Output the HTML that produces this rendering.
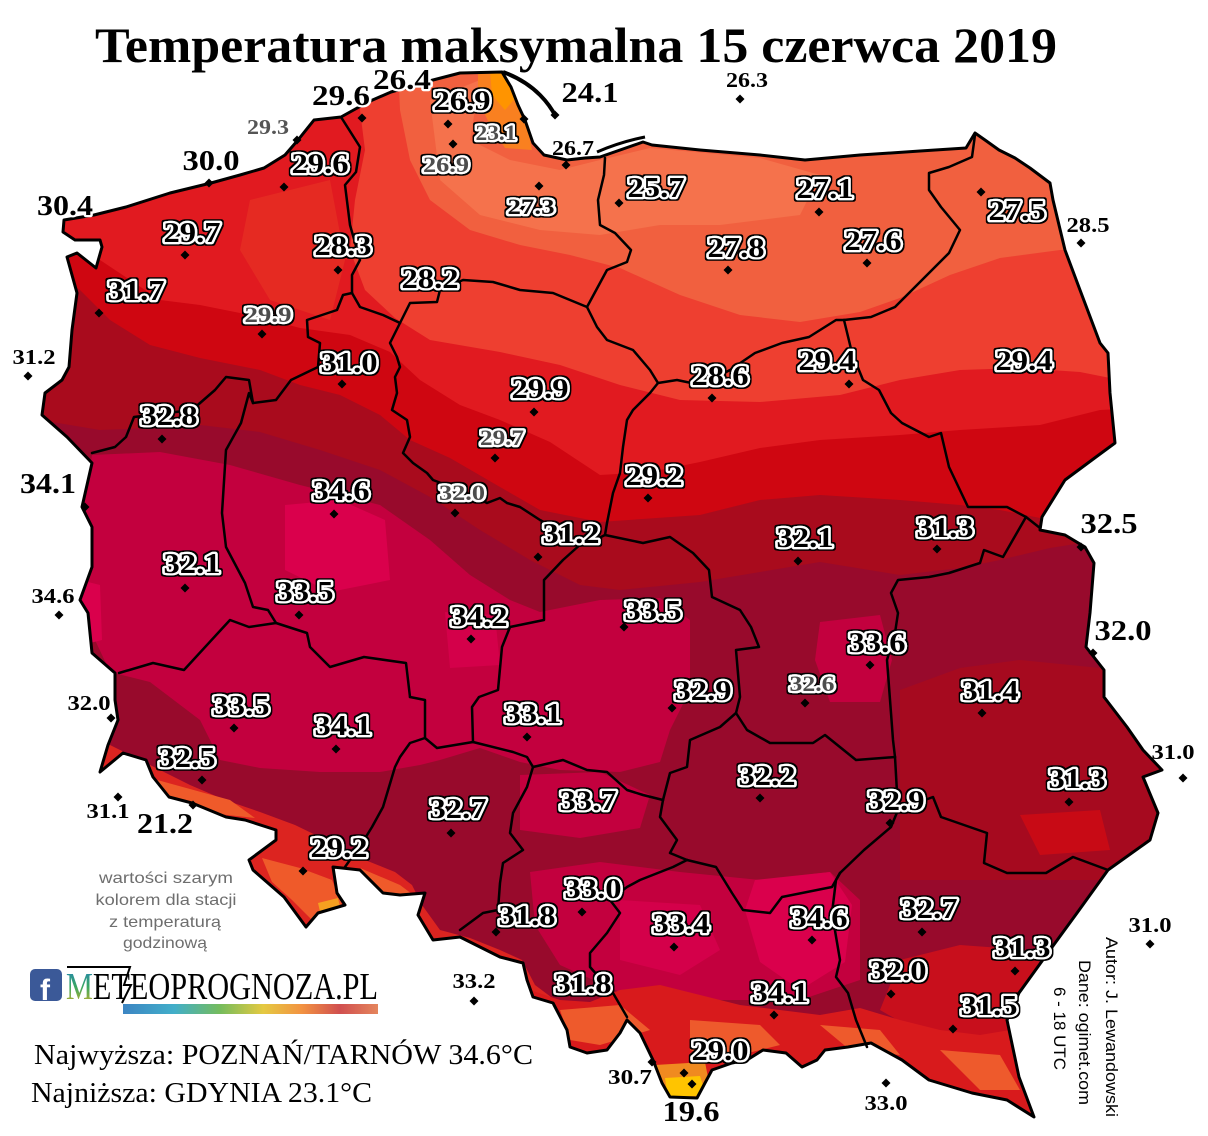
<!DOCTYPE html>
<html><head><meta charset="utf-8">
<style>
html,body{margin:0;padding:0;background:#fff;}
svg{display:block;}
.t{font-family:"Liberation Serif",serif;font-weight:bold;}
.big{font-size:29px;}
.sm{font-size:21px;}
.halo{stroke:#fff;stroke-width:4.5;stroke-linejoin:round;paint-order:stroke;}
.bd{fill:none;stroke:#000;stroke-width:2.5;stroke-linejoin:round;stroke-linecap:round;}
</style></head><body>
<svg width="1208" height="1136" viewBox="0 0 1208 1136" xmlns="http://www.w3.org/2000/svg">
<defs>
<clipPath id="pl"><path id="plp" d="M94,215 L126,207 L170,193 L211,183 L240,175 L264,168 L285,155 L298,140 L314,120 L341,117 L368,102 L391,92 L433,80 L460,73 L502,72 L511,87 L518,105 L525,120 L533,143 L544,155 L567,160 L585,158 L600,157 L643,142 L652,145 L700,150 L760,155 L805,160 L860,155 L920,151 L966,148 L975,133 L985,140 L999,150 L1015,158 L1030,168 L1050,183 L1053,200 L1065,250 L1080,290 L1100,343 L1108,353 L1110,393 L1115,443 L1096,457 L1065,480 L1042,517 L1040,530 L1065,535 L1085,547 L1094,563 L1090,613 L1086,647 L1104,670 L1104,697 L1127,727 L1143,750 L1162,770 L1143,777 L1158,813 L1150,840 L1108,870 L1077,913 L1050,950 L1019,993 L1007,1020 L1019,1077 L1034,1117 L1007,1100 L972,1093 L929,1080 L902,1060 L871,1043 L848,1047 L825,1050 L817,1060 L802,1067 L786,1053 L763,1050 L747,1060 L732,1063 L712,1070 L705,1083 L697,1098 L670,1097 L662,1083 L653,1060 L640,1033 L627,1020 L620,1033 L607,1050 L587,1053 L570,1047 L567,1030 L553,1003 L533,997 L527,980 L523,963 L500,957 L480,947 L460,937 L433,940 L418,915 L425,893 L400,895 L383,893 L360,870 L333,867 L337,893 L345,905 L318,913 L306,927 L284,897 L253,870 L249,860 L276,840 L276,830 L245,820 L226,817 L192,803 L169,797 L153,777 L146,760 L123,753 L100,772 L108,745 L118,720 L115,700 L115,673 L92,653 L88,613 L80,600 L92,567 L92,527 L82,507 L92,463 L67,437 L42,415 L45,393 L62,380 L69,367 L72,330 L77,293 L67,257 L77,253 L96,268 L102,247 L100,240 L75,240 L63,232 L64,220 Z"/></clipPath>
<filter id="rim" x="-20%" y="-30%" width="140%" height="160%">
<feMorphology in="SourceAlpha" operator="dilate" radius="1.3" result="d"/>
<feFlood flood-color="#000"/>
<feComposite in2="d" operator="in" result="b"/>
<feMerge><feMergeNode in="b"/><feMergeNode in="SourceGraphic"/></feMerge>
</filter>
<linearGradient id="mg" x1="0" y1="0" x2="0" y2="1">
<stop offset="0" stop-color="#1f7fc0"/><stop offset="0.5" stop-color="#3aa860"/><stop offset="1" stop-color="#e0b020"/>
</linearGradient>
<linearGradient id="bar" x1="0" y1="0" x2="1" y2="0">
<stop offset="0" stop-color="#1a6fb8"/><stop offset="0.2" stop-color="#20a0c0"/><stop offset="0.38" stop-color="#5cb040"/><stop offset="0.55" stop-color="#e0c020"/><stop offset="0.7" stop-color="#f08020"/><stop offset="0.85" stop-color="#c83030"/><stop offset="1" stop-color="#e07040"/>
</linearGradient>
</defs>

<!-- colour field -->
<g clip-path="url(#pl)">
<rect x="0" y="0" width="1208" height="1136" fill="#980a2c"/>
<path fill="#c3003e" d="M92,455 L160,452 L230,465 L300,485 L380,505 L430,540 L470,575 L510,600 L540,612 L600,600 L660,598 L690,620 L690,690 L670,730 L660,762 L620,772 L560,770 L520,762 L480,748 L440,760 L420,765 L380,772 L320,772 L260,768 L220,760 L200,720 L150,682 L110,672 L95,640 L80,560 L85,500 Z"/>
<path fill="#c3003e" d="M530,872 L600,862 L680,872 L760,880 L830,872 L860,900 L860,980 L800,1000 L700,1000 L620,992 L560,965 L535,925 Z"/>
<path fill="#c3003e" d="M520,775 L600,772 L650,795 L640,828 L580,838 L520,830 Z"/>
<path fill="#c3003e" d="M820,622 L880,615 L892,660 L880,702 L830,702 L815,660 Z"/>
<path fill="#da004c" d="M285,505 L340,500 L385,520 L390,580 L330,592 L285,570 Z"/>
<path fill="#da004c" d="M80,580 L100,585 L102,640 L82,645 Z"/>
<path fill="#da004c" d="M755,880 L830,872 L852,905 L845,962 L800,990 L760,962 L745,910 Z"/>
<path fill="#d4004a" d="M445,612 L495,615 L500,665 L450,668 Z"/>
<path fill="#d4004a" d="M620,900 L700,905 L720,950 L680,975 L620,960 Z"/>
<path fill="#a60a1f" d="M900,690 L960,668 L1020,660 L1100,668 L1160,700 L1175,880 L900,880 Z"/>
<path fill="#c80a15" d="M1020,815 L1100,810 L1110,850 L1040,855 Z"/>
<path fill="#c80f1c" d="M900,960 L960,945 L1030,950 L1060,990 L1040,1040 L950,1050 L880,1010 Z"/>
<!-- northern bands -->
<path fill="#a90b1d" d="M0,0 L1208,0 L1208,540 L1100,540 L1050,548 L1000,560 L960,568 L900,575 L820,562 L760,572 L700,582 L620,590 L580,585 L530,560 L480,530 L430,497 L380,470 L320,450 L260,432 L200,425 L150,428 L100,430 L40,420 L0,400 Z"/>
<path fill="#cf0611" d="M0,0 L1208,0 L1208,520 L1100,520 L1040,518 L1000,510 L960,505 L900,500 L820,495 L760,500 L700,515 L600,522 L540,510 L500,487 L450,458 L410,440 L380,415 L340,395 L300,385 L260,370 L200,358 L150,345 L110,320 L80,290 L50,270 L0,265 Z"/>
<path fill="#e11a20" d="M0,0 L1208,0 L1208,405 L1100,410 L1040,425 L960,430 L900,435 L820,440 L760,448 L700,462 L650,472 L600,475 L550,442 L500,420 L460,405 L420,380 L390,352 L350,335 L300,328 L250,315 L200,305 L160,300 L130,280 L100,260 L60,245 L0,235 Z"/>
<path fill="#e52a22" d="M250,200 L330,180 L345,260 L330,320 L270,300 L240,250 Z"/>
<path fill="#ee3f30" d="M345,0 L1208,0 L1208,385 L1120,380 L1080,372 L1020,368 L960,370 L900,380 L840,395 L760,402 L680,400 L620,385 L560,365 L500,352 L430,340 L395,318 L365,290 L350,250 L355,200 L365,150 L360,110 L345,60 Z"/>
<path fill="#f1603f" d="M395,0 L1208,0 L1208,250 L1060,250 L1000,258 L950,275 L900,298 L860,312 L800,322 L740,315 L680,295 L620,268 L570,255 L520,245 L470,230 L430,200 L410,160 L400,110 Z"/>
<path fill="#f5724c" d="M430,100 L480,80 L470,140 L510,160 L560,170 L600,160 L650,148 L760,158 L820,175 L800,215 L720,225 L660,225 L600,235 L540,230 L480,215 L440,180 Z"/>
<path fill="#f98020" d="M478,70 L512,70 L520,100 L528,130 L532,150 L505,148 L490,125 L478,100 Z"/>
<path fill="#ff9400" d="M490,70 L512,70 L518,95 L505,110 L492,95 Z"/>
<!-- mountains -->
<path fill="#dc2420" d="M110,745 L150,765 L190,785 L225,800 L260,812 L295,825 L330,842 L360,858 L395,872 L412,885 L422,905 L440,930 L470,938 L500,950 L522,960 L535,985 L555,1000 L570,1040 L570,1136 L0,1136 L0,745 Z"/>
<path fill="#ef5a2a" d="M262,858 L300,868 L332,880 L342,905 L312,920 L292,900 L272,882 Z"/>
<path fill="#ef5a2a" d="M150,778 L230,800 L255,818 L200,812 L150,792 Z"/>
<path fill="#ef5a2a" d="M360,868 L400,885 L420,900 L380,895 Z"/>
<path fill="#f5a020" d="M318,903 L338,898 L342,916 L322,920 Z"/>
<path fill="#d81a1c" d="M530,990 L560,1000 L590,1002 L620,990 L660,985 L700,995 L740,1005 L780,1010 L820,1015 L860,1008 L900,1020 L940,1030 L980,1035 L1010,1030 L1040,1000 L1208,1000 L1208,1136 L530,1136 Z"/>
<path fill="#ee5a2c" d="M560,1010 L620,1005 L650,1030 L600,1045 L570,1040 Z"/>
<path fill="#ee5a2c" d="M690,1020 L760,1025 L780,1045 L720,1060 L690,1050 Z"/>
<path fill="#ee5a2c" d="M820,1025 L880,1030 L900,1055 L850,1050 Z"/>
<path fill="#ee5a2c" d="M940,1050 L1000,1055 L1020,1090 L980,1090 Z"/>
<path fill="#f08a20" d="M655,1065 L705,1062 L712,1098 L660,1100 Z"/>
<path fill="#ffc400" d="M665,1078 L700,1076 L706,1095 L668,1098 Z"/>
</g>

<!-- voivodeship borders -->
<g class="bd">
<polyline points="341,117 360,147 356,172 345,185 350,225 360,260 352,275 352,293"/>
<polyline points="352,293 343,295 337,310 307,320 308,337 320,343 318,367 291,380 276,400 253,403"/>
<polyline points="253,403 249,380 226,377 215,390 192,410 134,417 126,437 115,447 92,453"/>
<polyline points="352,293 360,307 383,315 400,323 410,303 437,302 440,290 463,280 493,282 520,290 553,293 587,307"/>
<polyline points="587,307 607,270 627,262 631,250 615,233 600,225 598,200 604,175 605,158"/>
<polyline points="587,307 597,327 607,340 633,350 650,370 658,383"/>
<polyline points="658,383 650,393 633,410 627,420 623,447 620,473 613,493 607,523 605,535"/>
<polyline points="400,323 390,343 397,357 400,367 395,377 397,393 392,410 407,420 410,437 403,453 413,463 427,473 433,480 467,493 487,503 500,498 507,503 520,507 540,520 553,527 582,543 595,540 605,535"/>
<polyline points="582,543 563,560 544,580 544,620 510,627 502,647 498,690 479,697 472,707 473,742"/>
<polyline points="605,535 643,543 670,537 693,553 709,570 712,597 740,610 751,627 759,647 736,650 740,697 736,713"/>
<polyline points="658,383 677,380 701,385 730,370 755,353 782,343 809,337 836,320 844,320"/>
<polyline points="844,320 871,317 895,307 922,280 949,253 960,230 941,207 929,190 929,173 949,167 972,157 975,135"/>
<polyline points="844,320 852,353 863,380 879,390 891,413 902,423 929,437 941,433 949,467 968,507 1007,507 1026,517 1040,528"/>
<polyline points="1026,517 1003,557 984,550 980,563 949,573 929,577 898,580 891,593 898,613 895,633 887,660 891,713 893,740 895,757"/>
<polyline points="736,713 720,727 690,740 687,767 670,773 663,800"/>
<polyline points="736,713 747,730 770,743 813,743 825,735 856,760 895,757"/>
<polyline points="473,742 513,752 527,757 533,767 563,760 587,770 607,772 627,790 643,795 663,800"/>
<polyline points="473,742 437,748 425,738 425,700 410,697"/>
<polyline points="410,697 406,663 364,657 330,667 310,647 307,633 276,623"/>
<polyline points="253,403 249,393 241,423 226,450 222,513 226,547 245,583 253,607 268,610 276,623"/>
<polyline points="276,623 249,627 230,620 218,633 184,670 153,663 119,673"/>
<polyline points="425,738 410,743 400,757 395,767 383,807 372,827 364,840 345,867"/>
<polyline points="533,767 527,787 513,813 510,833 523,850 503,863 500,883 498,910 483,913 460,930"/>
<polyline points="663,800 660,817 677,840 670,853 687,860"/>
<polyline points="687,860 673,867 640,880 627,887 610,900 620,913 607,933 590,953 590,967 613,993 627,1017"/>
<polyline points="687,860 716,867 732,893 743,910 770,913 782,897 832,887 840,873"/>
<polyline points="840,873 864,850 891,827 898,810 895,757"/>
<polyline points="898,810 933,797 941,817 987,833 984,863 1007,873 1046,873 1073,857 1108,870"/>
<polyline points="840,873 836,880 832,913 840,960 836,977 848,993 856,1020 867,1047"/>
</g>
<use href="#plp" fill="none" stroke="#000" stroke-width="3" stroke-linejoin="round"/>
<path d="M503,72 Q525,80 540,95 Q550,105 556,117" fill="none" stroke="#000" stroke-width="4"/>
<path d="M597,152 Q620,142 645,137" fill="none" stroke="#000" stroke-width="3"/>

<!-- station diamonds -->
<path fill="#000" d="M362,113.5l4.5,4.5-4.5,4.5-4.5-4.5z M448,119.5l4.5,4.5-4.5,4.5-4.5-4.5z M524,114.5l4.5,4.5-4.5,4.5-4.5-4.5z M453,139.5l4.5,4.5-4.5,4.5-4.5-4.5z M555,110.5l4.5,4.5-4.5,4.5-4.5-4.5z M740,94.5l4.5,4.5-4.5,4.5-4.5-4.5z M566,160.5l4.5,4.5-4.5,4.5-4.5-4.5z M539,181.5l4.5,4.5-4.5,4.5-4.5-4.5z M297,135.5l4.5,4.5-4.5,4.5-4.5-4.5z M209,178.5l4.5,4.5-4.5,4.5-4.5-4.5z M284,182.5l4.5,4.5-4.5,4.5-4.5-4.5z M185,250.5l4.5,4.5-4.5,4.5-4.5-4.5z M338,265.5l4.5,4.5-4.5,4.5-4.5-4.5z M99,308.5l4.5,4.5-4.5,4.5-4.5-4.5z M262,329.5l4.5,4.5-4.5,4.5-4.5-4.5z M28,371.5l4.5,4.5-4.5,4.5-4.5-4.5z M342,379.5l4.5,4.5-4.5,4.5-4.5-4.5z M162,434.5l4.5,4.5-4.5,4.5-4.5-4.5z M85,502.5l4.5,4.5-4.5,4.5-4.5-4.5z M334,509.5l4.5,4.5-4.5,4.5-4.5-4.5z M455,508.5l4.5,4.5-4.5,4.5-4.5-4.5z M534,407.5l4.5,4.5-4.5,4.5-4.5-4.5z M495,453.5l4.5,4.5-4.5,4.5-4.5-4.5z M538,552.5l4.5,4.5-4.5,4.5-4.5-4.5z M185,583.5l4.5,4.5-4.5,4.5-4.5-4.5z M59,610.5l4.5,4.5-4.5,4.5-4.5-4.5z M299,610.5l4.5,4.5-4.5,4.5-4.5-4.5z M471,634.5l4.5,4.5-4.5,4.5-4.5-4.5z M111,713.5l4.5,4.5-4.5,4.5-4.5-4.5z M234,723.5l4.5,4.5-4.5,4.5-4.5-4.5z M336,744.5l4.5,4.5-4.5,4.5-4.5-4.5z M527,732.5l4.5,4.5-4.5,4.5-4.5-4.5z M202,775.5l4.5,4.5-4.5,4.5-4.5-4.5z M118,792.5l4.5,4.5-4.5,4.5-4.5-4.5z M193,800.5l4.5,4.5-4.5,4.5-4.5-4.5z M303,866.5l4.5,4.5-4.5,4.5-4.5-4.5z M451,828.5l4.5,4.5-4.5,4.5-4.5-4.5z M582,907.5l4.5,4.5-4.5,4.5-4.5-4.5z M496,927.5l4.5,4.5-4.5,4.5-4.5-4.5z M474,996.5l4.5,4.5-4.5,4.5-4.5-4.5z M674,942.5l4.5,4.5-4.5,4.5-4.5-4.5z M812,935.5l4.5,4.5-4.5,4.5-4.5-4.5z M922,927.5l4.5,4.5-4.5,4.5-4.5-4.5z M1015,966.5l4.5,4.5-4.5,4.5-4.5-4.5z M891,989.5l4.5,4.5-4.5,4.5-4.5-4.5z M953,1024.5l4.5,4.5-4.5,4.5-4.5-4.5z M774,1010.5l4.5,4.5-4.5,4.5-4.5-4.5z M684,1068.5l4.5,4.5-4.5,4.5-4.5-4.5z M652,1057.5l4.5,4.5-4.5,4.5-4.5-4.5z M692,1079.5l4.5,4.5-4.5,4.5-4.5-4.5z M886,1078.5l4.5,4.5-4.5,4.5-4.5-4.5z M1150,939.5l4.5,4.5-4.5,4.5-4.5-4.5z M1183,773.5l4.5,4.5-4.5,4.5-4.5-4.5z M1069,797.5l4.5,4.5-4.5,4.5-4.5-4.5z M890,818.5l4.5,4.5-4.5,4.5-4.5-4.5z M760,793.5l4.5,4.5-4.5,4.5-4.5-4.5z M672,703.5l4.5,4.5-4.5,4.5-4.5-4.5z M805,698.5l4.5,4.5-4.5,4.5-4.5-4.5z M870,660.5l4.5,4.5-4.5,4.5-4.5-4.5z M982,708.5l4.5,4.5-4.5,4.5-4.5-4.5z M1093,648.5l4.5,4.5-4.5,4.5-4.5-4.5z M1081,542.5l4.5,4.5-4.5,4.5-4.5-4.5z M937,544.5l4.5,4.5-4.5,4.5-4.5-4.5z M798,556.5l4.5,4.5-4.5,4.5-4.5-4.5z M624,622.5l4.5,4.5-4.5,4.5-4.5-4.5z M648,493.5l4.5,4.5-4.5,4.5-4.5-4.5z M712,393.5l4.5,4.5-4.5,4.5-4.5-4.5z M849,379.5l4.5,4.5-4.5,4.5-4.5-4.5z M728,265.5l4.5,4.5-4.5,4.5-4.5-4.5z M867,258.5l4.5,4.5-4.5,4.5-4.5-4.5z M819,207.5l4.5,4.5-4.5,4.5-4.5-4.5z M619,198.5l4.5,4.5-4.5,4.5-4.5-4.5z M981,187.5l4.5,4.5-4.5,4.5-4.5-4.5z M1081,238.5l4.5,4.5-4.5,4.5-4.5-4.5z"/>

<!-- big haloed labels with black rim -->
<g class="t big halo" fill="#000" text-anchor="middle" filter="url(#rim)">
<text x="462" y="110" textLength="57" lengthAdjust="spacingAndGlyphs">26.9</text>
<text x="320" y="173" textLength="57" lengthAdjust="spacingAndGlyphs">29.6</text>
<text x="192" y="242" textLength="57" lengthAdjust="spacingAndGlyphs">29.7</text>
<text x="343" y="255" textLength="57" lengthAdjust="spacingAndGlyphs">28.3</text>
<text x="430" y="288" textLength="57" lengthAdjust="spacingAndGlyphs">28.2</text>
<text x="136" y="300" textLength="57" lengthAdjust="spacingAndGlyphs">31.7</text>
<text x="349" y="372" textLength="57" lengthAdjust="spacingAndGlyphs">31.0</text>
<text x="540" y="398" textLength="57" lengthAdjust="spacingAndGlyphs">29.9</text>
<text x="169" y="425" textLength="57" lengthAdjust="spacingAndGlyphs">32.8</text>
<text x="341" y="500" textLength="57" lengthAdjust="spacingAndGlyphs">34.6</text>
<text x="571" y="543" textLength="57" lengthAdjust="spacingAndGlyphs">31.2</text>
<text x="192" y="573" textLength="57" lengthAdjust="spacingAndGlyphs">32.1</text>
<text x="305" y="601" textLength="57" lengthAdjust="spacingAndGlyphs">33.5</text>
<text x="479" y="626" textLength="57" lengthAdjust="spacingAndGlyphs">34.2</text>
<text x="241" y="715" textLength="57" lengthAdjust="spacingAndGlyphs">33.5</text>
<text x="343" y="735" textLength="57" lengthAdjust="spacingAndGlyphs">34.1</text>
<text x="533" y="723" textLength="57" lengthAdjust="spacingAndGlyphs">33.1</text>
<text x="187" y="767" textLength="57" lengthAdjust="spacingAndGlyphs">32.5</text>
<text x="339" y="857" textLength="57" lengthAdjust="spacingAndGlyphs">29.2</text>
<text x="458" y="818" textLength="57" lengthAdjust="spacingAndGlyphs">32.7</text>
<text x="588" y="810" textLength="57" lengthAdjust="spacingAndGlyphs">33.7</text>
<text x="593" y="898" textLength="57" lengthAdjust="spacingAndGlyphs">33.0</text>
<text x="527" y="925" textLength="57" lengthAdjust="spacingAndGlyphs">31.8</text>
<text x="583" y="993" textLength="57" lengthAdjust="spacingAndGlyphs">31.8</text>
<text x="681" y="933" textLength="57" lengthAdjust="spacingAndGlyphs">33.4</text>
<text x="819" y="927" textLength="57" lengthAdjust="spacingAndGlyphs">34.6</text>
<text x="929" y="918" textLength="57" lengthAdjust="spacingAndGlyphs">32.7</text>
<text x="1022" y="957" textLength="57" lengthAdjust="spacingAndGlyphs">31.3</text>
<text x="898" y="980" textLength="57" lengthAdjust="spacingAndGlyphs">32.0</text>
<text x="989" y="1015" textLength="57" lengthAdjust="spacingAndGlyphs">31.5</text>
<text x="780" y="1002" textLength="57" lengthAdjust="spacingAndGlyphs">34.1</text>
<text x="720" y="1060" textLength="57" lengthAdjust="spacingAndGlyphs">29.0</text>
<text x="1077" y="788" textLength="57" lengthAdjust="spacingAndGlyphs">31.3</text>
<text x="896" y="810" textLength="57" lengthAdjust="spacingAndGlyphs">32.9</text>
<text x="767" y="785" textLength="57" lengthAdjust="spacingAndGlyphs">32.2</text>
<text x="703" y="700" textLength="57" lengthAdjust="spacingAndGlyphs">32.9</text>
<text x="877" y="652" textLength="57" lengthAdjust="spacingAndGlyphs">33.6</text>
<text x="990" y="700" textLength="57" lengthAdjust="spacingAndGlyphs">31.4</text>
<text x="945" y="537" textLength="57" lengthAdjust="spacingAndGlyphs">31.3</text>
<text x="805" y="547" textLength="57" lengthAdjust="spacingAndGlyphs">32.1</text>
<text x="653" y="620" textLength="57" lengthAdjust="spacingAndGlyphs">33.5</text>
<text x="654" y="485" textLength="57" lengthAdjust="spacingAndGlyphs">29.2</text>
<text x="720" y="385" textLength="57" lengthAdjust="spacingAndGlyphs">28.6</text>
<text x="827" y="370" textLength="57" lengthAdjust="spacingAndGlyphs">29.4</text>
<text x="1024" y="370" textLength="57" lengthAdjust="spacingAndGlyphs">29.4</text>
<text x="736" y="257" textLength="57" lengthAdjust="spacingAndGlyphs">27.8</text>
<text x="873" y="250" textLength="57" lengthAdjust="spacingAndGlyphs">27.6</text>
<text x="825" y="198" textLength="57" lengthAdjust="spacingAndGlyphs">27.1</text>
<text x="656" y="197" textLength="57" lengthAdjust="spacingAndGlyphs">25.7</text>
<text x="1017" y="220" textLength="57" lengthAdjust="spacingAndGlyphs">27.5</text>
</g>
<!-- small haloed labels -->
<g class="t halo" font-size="22" text-anchor="middle" filter="url(#rim)">
<text x="496" y="140" fill="#4d4d4d" textLength="41" lengthAdjust="spacingAndGlyphs">23.1</text>
<text x="446" y="172" fill="#4d4d4d" textLength="46" lengthAdjust="spacingAndGlyphs">26.9</text>
<text x="531" y="214" fill="#111" textLength="47" lengthAdjust="spacingAndGlyphs">27.3</text>
<text x="268" y="322" fill="#4d4d4d" textLength="47" lengthAdjust="spacingAndGlyphs">29.9</text>
<text x="502" y="445" fill="#4d4d4d" textLength="44" lengthAdjust="spacingAndGlyphs">29.7</text>
<text x="462" y="500" fill="#4d4d4d" textLength="46" lengthAdjust="spacingAndGlyphs">32.0</text>
<text x="812" y="691" fill="#4d4d4d" textLength="45" lengthAdjust="spacingAndGlyphs">32.6</text>
</g>
<!-- big outside labels -->
<g class="t big halo" fill="#000" text-anchor="middle">
<text x="341" y="105" textLength="58" lengthAdjust="spacingAndGlyphs">29.6</text>
<text x="402" y="89" textLength="58" lengthAdjust="spacingAndGlyphs">26.4</text>
<text x="590" y="102" textLength="57" lengthAdjust="spacingAndGlyphs">24.1</text>
<text x="211" y="170" textLength="57" lengthAdjust="spacingAndGlyphs">30.0</text>
<text x="65" y="215" textLength="56" lengthAdjust="spacingAndGlyphs">30.4</text>
<text x="48" y="493" textLength="56" lengthAdjust="spacingAndGlyphs">34.1</text>
<text x="165" y="833" textLength="56" lengthAdjust="spacingAndGlyphs">21.2</text>
<text x="691" y="1121" textLength="57" lengthAdjust="spacingAndGlyphs">19.6</text>
<text x="1123" y="640" textLength="57" lengthAdjust="spacingAndGlyphs">32.0</text>
<text x="1109" y="533" textLength="57" lengthAdjust="spacingAndGlyphs">32.5</text>
</g>
<!-- small outside labels -->
<g class="t sm" fill="#000" text-anchor="middle">
<text x="747" y="87" textLength="42" lengthAdjust="spacingAndGlyphs">26.3</text>
<text x="573" y="155" textLength="42" lengthAdjust="spacingAndGlyphs">26.7</text>
<text x="268" y="134" fill="#555" textLength="42" lengthAdjust="spacingAndGlyphs">29.3</text>
<text x="34" y="364" textLength="43" lengthAdjust="spacingAndGlyphs">31.2</text>
<text x="53" y="603" textLength="43" lengthAdjust="spacingAndGlyphs">34.6</text>
<text x="89" y="710" textLength="43" lengthAdjust="spacingAndGlyphs">32.0</text>
<text x="108" y="818" textLength="43" lengthAdjust="spacingAndGlyphs">31.1</text>
<text x="474" y="988" textLength="43" lengthAdjust="spacingAndGlyphs">33.2</text>
<text x="630" y="1084" textLength="44" lengthAdjust="spacingAndGlyphs">30.7</text>
<text x="886" y="1110" textLength="43" lengthAdjust="spacingAndGlyphs">33.0</text>
<text x="1150" y="932" textLength="43" lengthAdjust="spacingAndGlyphs">31.0</text>
<text x="1173" y="759" textLength="43" lengthAdjust="spacingAndGlyphs">31.0</text>
<text x="1088" y="232" textLength="43" lengthAdjust="spacingAndGlyphs">28.5</text>
</g>

<!-- title -->
<text x="95" y="62" class="t" font-size="50" fill="#000" textLength="962" lengthAdjust="spacingAndGlyphs">Temperatura maksymalna 15 czerwca 2019</text>

<!-- note -->
<g font-family="'Liberation Sans','DejaVu Sans',sans-serif" font-size="16" fill="#6e6e6e" text-anchor="middle">
<text x="166" y="883" textLength="134" lengthAdjust="spacingAndGlyphs">wartości szarym</text>
<text x="166" y="905" textLength="141" lengthAdjust="spacingAndGlyphs">kolorem dla stacji</text>
<text x="165" y="927" textLength="112" lengthAdjust="spacingAndGlyphs">z temperaturą</text>
<text x="165" y="948" textLength="84" lengthAdjust="spacingAndGlyphs">godzinową</text>
</g>

<!-- logo -->
<rect x="30" y="969" width="32" height="32" rx="5" fill="#3b5998"/>
<text x="40" y="1000" font-family="'Liberation Sans',sans-serif" font-weight="bold" font-size="30" fill="#fff">f</text>
<path d="M67,967 L130,967 L124,985 L131,985 L122,1003" fill="none" stroke="#000" stroke-width="2"/>
<text x="66" y="999" font-family="'Liberation Serif',serif" font-size="38" fill="#000" textLength="312" lengthAdjust="spacingAndGlyphs"><tspan fill="url(#mg)">M</tspan>ETEOPROGNOZA.PL</text>
<rect x="123" y="1004" width="255" height="10" fill="url(#bar)" opacity="0.85"/>

<!-- extremes -->
<g font-family="'Liberation Serif',serif" font-size="29" fill="#000">
<text x="34" y="1064" textLength="499" lengthAdjust="spacingAndGlyphs">Najwyższa: POZNAŃ/TARNÓW 34.6°C</text>
<text x="31" y="1102" textLength="341" lengthAdjust="spacingAndGlyphs">Najniższa: GDYNIA 23.1°C</text>
</g>

<!-- credits (vertical) -->
<g font-family="'Liberation Sans','DejaVu Sans',sans-serif" font-size="17" fill="#000">
<text transform="translate(1106,937) rotate(90)" textLength="180" lengthAdjust="spacingAndGlyphs">Autor: J. Lewandowski</text>
<text transform="translate(1079,960) rotate(90)" textLength="145" lengthAdjust="spacingAndGlyphs">Dane: ogimet.com</text>
<text transform="translate(1054,987) rotate(90)" textLength="83" lengthAdjust="spacingAndGlyphs">6 - 18 UTC</text>
</g>
</svg>
</body></html>
